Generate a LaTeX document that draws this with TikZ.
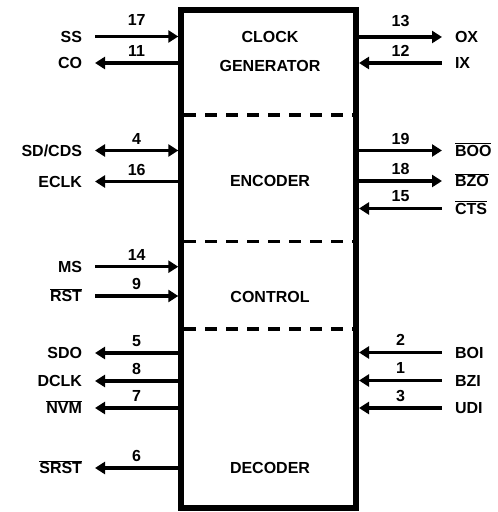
\documentclass[tikz,border=0pt]{standalone}
\usepackage{fontspec}
\setmainfont{Liberation Sans}
\usetikzlibrary{arrows.meta}
\newcommand{\ovl}[1]{$\overline{\mbox{#1}}$}
\begin{document}
\begin{tikzpicture}[x=1bp,y=-1bp]
\tikzstyle{txt} = [font=\bfseries\fontsize{16bp}{19bp}\selectfont, inner sep=0pt, text height=11.5bp, text depth=0pt];
\tikzstyle{pinlbl} = [txt, inner xsep=13bp, outer sep=0pt];
\tikzstyle{wire} = [line width=3.5bp, >={Triangle[length=10bp,width=12bp]}];
\useasboundingbox (0,0) rectangle (498,512);

\node[draw, line width=6bp, minimum width=174.7bp, minimum height=498.3bp] (chip) at (268.65,258.85) {};

% dividers between the blocks
\foreach \y in {115,241.5,329}
	\draw[line width=3.5bp, dash pattern=on 12bp off 9bp] (184,\y) -- (353,\y);

\node[txt] (clk) at (270,36.7) {CLOCK};
\node[txt] (gen) at (270,65.5) {GENERATOR};
\node[txt] (enc) at (270,181) {ENCODER};
\node[txt] (ctl) at (270,296.5) {CONTROL};
\node[txt] (dec) at (270,468) {DECODER};

% left pins
\foreach \n/\t/\y/\p/\s/\o in {ss/SS/36.5/17/->/9.5bp, co/CO/63/11/<-/4.5bp,
	sdcds/{SD/CDS}/150.5/4/<->/4.5bp, eclk/ECLK/181.5/16/<-/4.5bp,
	ms/MS/266.7/14/->/4.5bp, rst/\ovl{RST}/296/9/->/4.5bp,
	sdo/SDO/353/5/<-/5bp, dclk/DCLK/381/8/<-/5bp, nvm/\ovl{NVM}/408/7/<-/4.5bp,
	srst/\ovl{SRST}/468/6/<-/4.5bp}
{
	\node[pinlbl, anchor=east] (\n) at (95,\y) {\t};
	\draw[wire, \s] (\n.east) -- (\n.east -| chip.west) node[txt, midway, above=\o] (p-\p) {\p};
}

% right pins
\foreach \n/\t/\y/\p/\s/\o in {ox/OX/37/13/->/9bp, ix/IX/63/12/<-/5bp,
	boo/\ovl{BOO}/150.5/19/->/4.5bp, bzo/\ovl{BZO}/181/18/->/5bp, cts/\ovl{CTS}/208.5/15/<-/5bp,
	boi/BOI/352.5/2/<-/5bp, bzi/BZI/380.5/1/<-/5bp, udi/UDI/408/3/<-/5bp}
{
	\node[pinlbl, anchor=west] (\n) at (442,\y) {\t};
	\draw[wire, \s] (\n.west -| chip.east) -- (\n.west) node[txt, midway, above=\o] (p-\p) {\p};
}
\end{tikzpicture}
\end{document}
